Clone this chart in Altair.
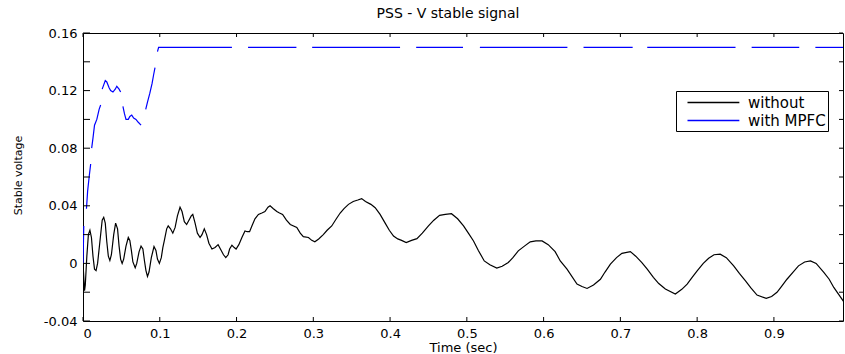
import altair as alt
import pandas as pd

# ---- data ----
black_t = [0.000, 0.002, 0.003, 0.005, 0.007, 0.009, 0.011, 0.013, 0.015, 0.017, 0.019, 0.022,
           0.025, 0.027, 0.029, 0.031, 0.033, 0.035, 0.037, 0.040, 0.0425, 0.045, 0.047, 0.049,
           0.051, 0.053, 0.056, 0.059, 0.061, 0.063, 0.065, 0.068, 0.070, 0.073, 0.0756, 0.078,
           0.080, 0.082, 0.084, 0.086, 0.089, 0.0925, 0.095, 0.097, 0.0995, 0.102, 0.104, 0.106,
           0.109, 0.111, 0.114, 0.117, 0.120, 0.123, 0.1264, 0.129, 0.132, 0.135, 0.138, 0.141,
           0.143, 0.146, 0.149, 0.1525, 0.155, 0.158, 0.161, 0.164, 0.168, 0.172, 0.176, 0.179,
           0.183, 0.186, 0.189, 0.191, 0.194, 0.197, 0.1994, 0.203, 0.207, 0.211, 0.214, 0.217,
           0.220, 0.224, 0.2285, 0.233, 0.237, 0.241, 0.2437, 0.248, 0.2525, 0.256, 0.260, 0.265,
           0.270, 0.2785, 0.283, 0.287, 0.2937, 0.298, 0.302, 0.307, 0.313, 0.318, 0.324, 0.330,
           0.335, 0.340, 0.3458, 0.352, 0.358, 0.363, 0.368, 0.375, 0.3806, 0.387, 0.3936, 0.399,
           0.4045, 0.410, 0.415, 0.421, 0.428, 0.435, 0.442, 0.450, 0.457, 0.4645, 0.472, 0.480,
           0.488, 0.4957, 0.502, 0.5087, 0.515, 0.5227, 0.530, 0.539, 0.546, 0.554, 0.560, 0.567,
           0.575, 0.5826, 0.590, 0.598, 0.606, 0.615, 0.6217, 0.6305, 0.6435, 0.650, 0.6566, 0.665,
           0.674, 0.680, 0.687, 0.695, 0.702, 0.713, 0.720, 0.728, 0.735, 0.743, 0.750, 0.7586,
           0.7716, 0.780, 0.787, 0.793, 0.800, 0.808, 0.815, 0.822, 0.830, 0.838, 0.8476, 0.855,
           0.863, 0.870, 0.878, 0.890, 0.897, 0.904, 0.910, 0.917, 0.925, 0.932, 0.940, 0.9476,
           0.955, 0.965, 0.972, 0.978, 0.985, 0.991]
black_v = [0.000, -0.019, -0.015, 0.005, 0.020, 0.023, 0.018, 0.005, -0.004, -0.005, 0.000, 0.015,
           0.030, 0.032, 0.028, 0.015, 0.005, 0.002, 0.006, 0.020, 0.028, 0.024, 0.012, 0.003,
           0.000, 0.003, 0.012, 0.018, 0.016, 0.009, 0.001, -0.003, 0.000, 0.008, 0.012, 0.010,
           0.002, -0.005, -0.009, -0.006, 0.004, 0.0117, 0.009, 0.003, 0.000, 0.004, 0.011, 0.016,
           0.024, 0.026, 0.024, 0.021, 0.025, 0.033, 0.039, 0.036, 0.029, 0.027, 0.030, 0.033,
           0.034, 0.028, 0.021, 0.018, 0.020, 0.024, 0.020, 0.014, 0.010, 0.011, 0.013, 0.010,
           0.006, 0.004, 0.006, 0.010, 0.0126, 0.011, 0.010, 0.013, 0.018, 0.0225, 0.022, 0.022,
           0.026, 0.031, 0.034, 0.035, 0.036, 0.039, 0.040, 0.038, 0.036, 0.035, 0.034, 0.030,
           0.027, 0.025, 0.021, 0.0186, 0.018, 0.016, 0.015, 0.017, 0.020, 0.023, 0.026, 0.031,
           0.035, 0.038, 0.041, 0.043, 0.044, 0.045, 0.043, 0.041, 0.0387, 0.034, 0.028, 0.023,
           0.019, 0.017, 0.016, 0.0145, 0.016, 0.0172, 0.021, 0.026, 0.030, 0.0334, 0.034, 0.0345,
           0.031, 0.026, 0.021, 0.0156, 0.009, 0.0017, -0.001, -0.0033, -0.002, 0.0006, 0.004, 0.0087,
           0.012, 0.015, 0.0156, 0.0156, 0.013, 0.0082, 0.0017, -0.004, -0.0144, -0.016, -0.0174, -0.015,
           -0.011, -0.006, -0.0005, 0.004, 0.007, 0.0082, 0.005, 0.0006, -0.004, -0.0097, -0.014, -0.0178,
           -0.0213, -0.018, -0.0144, -0.010, -0.0052, 0.000, 0.0036, 0.006, 0.0064, 0.004, -0.0017, -0.007,
           -0.0121, -0.017, -0.022, -0.0243, -0.023, -0.0201, -0.016, -0.011, -0.006, -0.0017, 0.001, 0.0017,
           0.000, -0.0063, -0.011, -0.0167, -0.022, -0.0266]

# blue trace: None marks a gap in the drawn line
blue_t = [0.000, 0.001, None,
          0.0045, 0.006, 0.008, 0.010, None,
          0.0113, 0.013, 0.015, 0.018, 0.021, 0.023, None,
          0.025, 0.027, 0.029, 0.031, 0.034, 0.036, 0.039, 0.042, 0.044, 0.047, 0.049, None,
          0.052, 0.054, 0.056, 0.059, 0.061, 0.0635, 0.066, 0.069, 0.072, 0.0756, None,
          0.0817, 0.084, 0.087, 0.090, 0.092, 0.0938, None,
          0.097, 0.0985, 0.194, None,
          0.215, 0.278, None,
          0.2985, 0.413, None,
          0.434, 0.495, None,
          0.517, 0.631, None,
          0.652, 0.716, None,
          0.735, 0.850, None,
          0.871, 0.933, None,
          0.954, 0.990]
blue_v = [0.000, 0.026, None,
          0.038, 0.050, 0.060, 0.069, None,
          0.080, 0.087, 0.096, 0.100, 0.107, 0.110, None,
          0.121, 0.124, 0.127, 0.126, 0.122, 0.120, 0.119, 0.121, 0.123, 0.121, 0.119, None,
          0.109, 0.104, 0.100, 0.100, 0.102, 0.103, 0.101, 0.100, 0.098, 0.096, None,
          0.107, 0.112, 0.118, 0.125, 0.131, 0.136, None,
          0.147, 0.150, 0.150, None,
          0.150, 0.150, None,
          0.150, 0.150, None,
          0.150, 0.150, None,
          0.150, 0.150, None,
          0.150, 0.150, None,
          0.150, 0.150, None,
          0.150, 0.150, None,
          0.150, 0.150]

series_names = ["without", "with MPFC"]
series_colors = ["#000000", "#0000FF"]
x_ticks = [0, 0.1, 0.2, 0.3, 0.4, 0.5, 0.6, 0.7, 0.8, 0.9]
y_ticks = [-0.04, -0.02, 0, 0.02, 0.04, 0.06, 0.08, 0.1, 0.12, 0.14, 0.16]

# ---- tables ----
black_df = pd.DataFrame({"t": black_t, "v": black_v, "series": series_names[0], "seg": 0})
rows = []
seg = 0
for t, v in zip(blue_t, blue_v):
    if t is None:
        seg += 1
        continue
    rows.append({"t": t, "v": v, "series": series_names[1], "seg": seg})
blue_df = pd.DataFrame(rows)
xt_df = pd.DataFrame({"t": x_ticks})
yt_df = pd.DataFrame({"v": y_ticks})

W, H = 760, 288
FONT = "DejaVu Sans"

x_scale = alt.Scale(domain=[0, 0.99], nice=False, zero=False)
y_scale = alt.Scale(domain=[-0.04, 0.16], nice=False, zero=False)
color_scale = alt.Scale(domain=series_names, range=series_colors)

x_enc = alt.X("t:Q", scale=x_scale, title="Time (sec)",
              axis=alt.Axis(values=x_ticks, ticks=False, tickSize=0, domain=False, grid=False,
                            labelExpr="replace(format(datum.value, '.1~f'), '\u2212', '-')",
                            labelFont=FONT, labelFontSize=13, labelColor="black", labelPadding=6,
                            titleFont=FONT, titleFontSize=13, titleFontWeight="normal",
                            titleColor="black", titleBaseline="alphabetic", titleY=30))
y_enc = alt.Y("v:Q", scale=y_scale, title="Stable voltage",
              axis=alt.Axis(values=y_ticks, ticks=False, tickSize=0, domain=False, grid=False,
                            labelExpr="replace(format(datum.value, '.2~f'), '\u2212', '-')",
                            labelFont=FONT, labelFontSize=13, labelColor="black", labelPadding=6,
                            titleFont=FONT, titleFontSize=11, titleFontWeight="normal",
                            titleColor="black", titleAngle=270, titleAlign="center",
                            titleBaseline="middle", titleX=-65, titleY=H / 2 - 2))

# legend: a short-size symbol whose custom path draws a long horizontal stroke
legend = alt.Legend(title=None, orient="none", legendX=593, legendY=58,
                    strokeColor="black", fillColor="white", padding=2,
                    symbolType="M0,0H6.1", symbolSize=289, symbolStrokeWidth=1.3,
                    labelFont=FONT, labelFontSize=15, labelColor="black",
                    labelOffset=51, rowPadding=0)

black_line = alt.Chart(black_df).mark_line(strokeWidth=1.2, clip=True).encode(
    x=x_enc, y=y_enc,
    color=alt.Color("series:N", scale=color_scale, legend=legend),
    detail="seg:N",
)
blue_line = alt.Chart(blue_df).mark_line(strokeWidth=1.2, clip=True).encode(
    x=alt.X("t:Q", scale=x_scale), y=alt.Y("v:Q", scale=y_scale),
    color=alt.Color("series:N", scale=color_scale),
    detail="seg:N",
)

tick_color = "black"
bottom_ticks = alt.Chart(xt_df).mark_rule(color=tick_color, strokeWidth=1).encode(
    x=alt.X("t:Q", scale=x_scale), y=alt.value(H - 4), y2=alt.value(H))
top_ticks = alt.Chart(xt_df).mark_rule(color=tick_color, strokeWidth=1).encode(
    x=alt.X("t:Q", scale=x_scale), y=alt.value(0), y2=alt.value(4))
left_ticks = alt.Chart(yt_df).mark_rule(color=tick_color, strokeWidth=1).encode(
    y=alt.Y("v:Q", scale=y_scale), x=alt.value(0), x2=alt.value(7))
right_ticks = alt.Chart(yt_df).mark_rule(color=tick_color, strokeWidth=1).encode(
    y=alt.Y("v:Q", scale=y_scale), x=alt.value(W - 4), x2=alt.value(W))

chart = alt.layer(black_line, blue_line, bottom_ticks, top_ticks, left_ticks, right_ticks).properties(
    width=W, height=H,
    title=alt.TitleParams(text="PSS - V stable signal", font=FONT, fontSize=14,
                          fontWeight="normal", color="black", anchor="middle",
                          baseline="alphabetic", offset=9, dx=-15, dy=14),
    autosize=alt.AutoSizeParams(type="none"),
    padding={"left": 83, "top": 33, "right": 2, "bottom": 33},
    background="white",
).configure_view(stroke="black", strokeWidth=1)

chart.save("out.html", embed_options={"renderer": "svg", "actions": False})
